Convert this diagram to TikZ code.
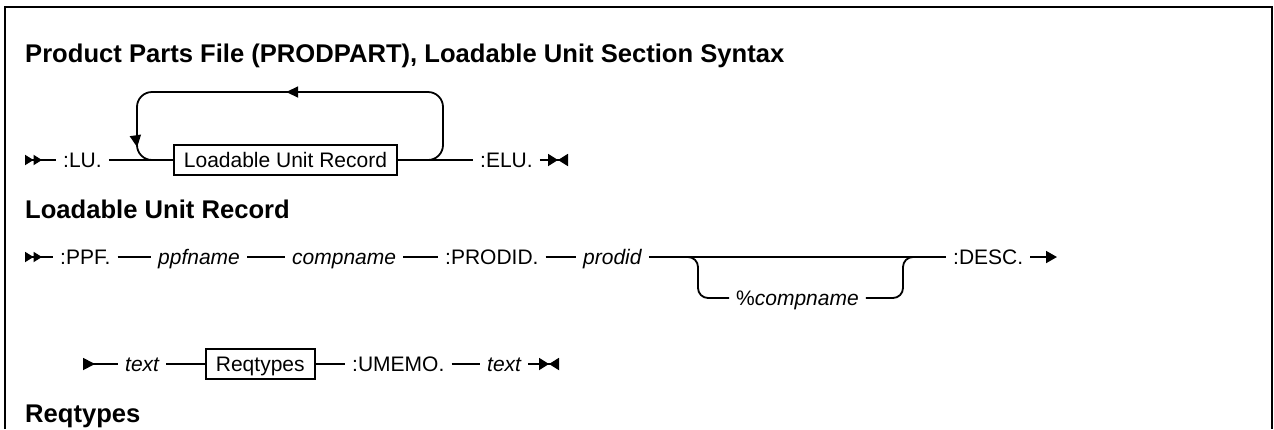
\documentclass[tikz,border=0pt]{standalone}
\usepackage{fontspec}
\setmainfont{Liberation Sans}
\usetikzlibrary{arrows.meta,decorations.markings}

\tikzset{
  rail/.style={line width=1.8pt},
  lbl/.style={font=\fontsize{21}{25}\selectfont, inner xsep=7pt, inner ysep=0pt, text height=15pt, text depth=0pt, anchor=west},
  var/.style={lbl, font=\fontsize{21}{25}\selectfont\itshape},
  rbox/.style={lbl, draw, line width=1.8pt, inner xsep=10pt, inner ysep=7.5pt},
  head/.style={font=\fontsize{25.6}{30}\selectfont\bfseries, inner sep=0pt, anchor=base west},
  frame/.style={line width=2.5pt},
  begrail/.style={{Triangle[reversed,length=8.5pt,width=10pt]Triangle[reversed,length=8.5pt,width=10pt]}-},
  endrail/.style={-{Triangle[length=10pt,width=12pt]Triangle[reversed,length=10pt,width=12pt]}},
  contout/.style={-{Triangle[length=11pt,width=12pt]}},
  contin/.style={{Triangle[reversed,length=12pt,width=12pt]}-}
}

\begin{document}
\begin{tikzpicture}[x=1pt,y=1pt]
\useasboundingbox (0,0) rectangle (1274,-429);
\draw[frame] (5,-429) -- (5,-7) -- (1272,-7) -- (1272,-429);
\node[head] (title) at (25,-62) {Product Parts File (PRODPART), Loadable Unit Section Syntax};
\coordinate (s1) at (25,-160);
\node[lbl] (lu) at (56,-160) {:LU.};
\node[rbox] (lur) at (173,-160) {Loadable Unit Record};
\node[lbl] (elu) at (473,-160) {:ELU.};
\coordinate (e1) at (568,-160);
\coordinate (loopR) at (443,-92);
\coordinate (loopL) at (137,-92);
\draw[rail,begrail] (s1) -- (lu.west);
\draw[rail] (lu.east) -- (lur.west);
\draw[rail] (lur.east) -- (elu.west);
\draw[rail,endrail] (elu.east) -- (e1);
\draw[rail,rounded corners=15pt,postaction={decorate},
  decoration={markings,
    mark=at position 257pt with {\arrow{Triangle[length=12pt,width=11pt]}},
    mark=at position 455pt with {\arrow{Triangle[length=12pt,width=11pt]}}}]
  (lur.east) -| (loopR) -| (loopL |- lur.west) -- (lur.west);
\node[head] (hdlur) at (25,-218) {Loadable Unit Record};
\coordinate (s3) at (25,-257);
\node[lbl] (ppf) at (53,-257) {:PPF.};
\node[var] (ppfn) at (151,-257) {ppfname};
\node[var] (cmpn) at (285,-257) {compname};
\node[lbl] (prid) at (438,-257) {:PRODID.};
\node[var] (prodid) at (576,-257) {prodid};
\node[lbl] (pcmp) at (729,-298) {\%\textit{compname}};
\node[lbl] (desc) at (946,-257) {:DESC.};
\coordinate (e3) at (1057,-257);
\coordinate (brL) at (698,-257);
\coordinate (brR) at (903,-257);
\draw[rail,begrail] (s3) -- (ppf.west);
\draw[rail] (ppf.east) -- (ppfn.west);
\draw[rail] (ppfn.east) -- (cmpn.west);
\draw[rail] (cmpn.east) -- (prid.west);
\draw[rail] (prid.east) -- (prodid.west);
\draw[rail] (prodid.east) -- (desc.west);
\draw[rail,rounded corners=10pt] ([xshift=-10pt]brL) -| (brL |- pcmp.west) -- (pcmp.west);
\draw[rail,rounded corners=10pt] (pcmp.east) -| (brR) -- ([xshift=10pt]brR);
\draw[rail,contout] (desc.east) -- (e3);
\coordinate (s4) at (83,-364);
\node[var] (txa) at (118,-364) {text};
\node[rbox] (req) at (205,-364) {Reqtypes};
\node[lbl] (umemo) at (345,-364) {:UMEMO.};
\node[var] (txb) at (480,-364) {text};
\coordinate (e4) at (559,-364);
\draw[rail,contin] (s4) -- (txa.west);
\draw[rail] (txa.east) -- (req.west);
\draw[rail] (req.east) -- (umemo.west);
\draw[rail] (umemo.east) -- (txb.west);
\draw[rail,endrail] (txb.east) -- (e4);
\node[head] (hdreq) at (25,-422) {Reqtypes};
\end{tikzpicture}
\end{document}
